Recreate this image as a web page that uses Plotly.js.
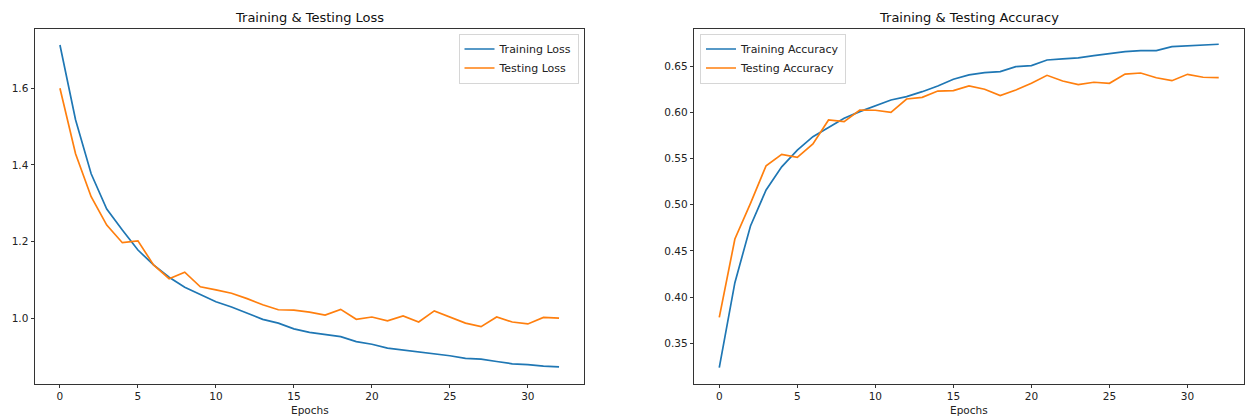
<!DOCTYPE html>
<html>
<head>
<meta charset="utf-8">
<script src="https://cdn.plot.ly/plotly-3.0.1.min.js"></script>
<style>html,body{margin:0;padding:0;background:#fff;}#chart{width:1248px;height:416px;}</style>
</head>
<body>
<div id="chart"></div>
<script>
const epochs = [0,1,2,3,4,5,6,7,8,9,10,11,12,13,14,15,16,17,18,19,20,21,22,23,24,25,26,27,28,29,30,31,32];
const trainLoss = [1.713,1.518,1.377,1.285,1.230,1.178,1.139,1.107,1.081,1.061,1.043,1.029,1.013,0.997,0.987,0.972,0.963,0.958,0.952,0.939,0.932,0.922,0.917,0.912,0.907,0.902,0.895,0.893,0.887,0.881,0.879,0.875,0.873];
const testLoss  = [1.600,1.429,1.317,1.243,1.197,1.202,1.139,1.103,1.120,1.082,1.074,1.065,1.051,1.035,1.022,1.021,1.016,1.008,1.023,0.997,1.003,0.993,1.006,0.990,1.019,1.003,0.987,0.978,1.003,0.990,0.985,1.002,1.000];
const trainAcc  = [0.3236,0.4156,0.4770,0.5160,0.5410,0.5590,0.5736,0.5833,0.5935,0.6007,0.6068,0.6133,0.6170,0.6223,0.6285,0.6357,0.6404,0.6429,0.6440,0.6494,0.6505,0.6566,0.6577,0.6588,0.6613,0.6638,0.6656,0.6667,0.6667,0.6710,0.6718,0.6728,0.6736];
const testAcc   = [0.3780,0.4629,0.5015,0.5422,0.5545,0.5513,0.5657,0.5917,0.5898,0.6025,0.6022,0.6000,0.6144,0.6162,0.6230,0.6234,0.6285,0.6249,0.6180,0.6241,0.6314,0.6400,0.6339,0.6299,0.6325,0.6314,0.6414,0.6425,0.6374,0.6342,0.6411,0.6379,0.6374];
const chartTitles = ['Training & Testing Loss','Training & Testing Accuracy'];
const xLabel = 'Epochs';

const BLUE = '#1f77b4', ORANGE = '#ff7f0e';
const FONT = 'DejaVu Sans, sans-serif';
const W = 1248, H = 416;
const leftDom = [35/W, 584/W];
const rightDom = [694.3/W, 1243.7/W];
const yDom = [(H-383.7)/H, (H-29.3)/H];

const traces = [
  {x: epochs, y: trainLoss, name: 'Training Loss', type: 'scatter', mode: 'lines', line: {color: BLUE, width: 1.7}, xaxis: 'x', yaxis: 'y', legend: 'legend'},
  {x: epochs, y: testLoss, name: 'Testing Loss', type: 'scatter', mode: 'lines', line: {color: ORANGE, width: 1.7}, xaxis: 'x', yaxis: 'y', legend: 'legend'},
  {x: epochs, y: trainAcc, name: 'Training Accuracy', type: 'scatter', mode: 'lines', line: {color: BLUE, width: 1.7}, xaxis: 'x2', yaxis: 'y2', legend: 'legend2'},
  {x: epochs, y: testAcc, name: 'Testing Accuracy', type: 'scatter', mode: 'lines', line: {color: ORANGE, width: 1.7}, xaxis: 'x2', yaxis: 'y2', legend: 'legend2'}
];

const axBase = {
  showline: true, mirror: true, linecolor: '#333', linewidth: 1,
  showgrid: false, zeroline: false,
  ticks: 'outside', ticklen: 3.5, tickwidth: 1, tickcolor: '#333',
  tickfont: {family: FONT, size: 10.5, color: '#222'}
};

const legBase = {
  font: {family: FONT, size: 11, color: '#222'},
  bgcolor: 'rgba(255,255,255,0.8)', bordercolor: '#d6d6d6', borderwidth: 1,
  itemwidth: 30, tracegroupgap: 0, yanchor: 'top'
};

const layout = {
  width: W, height: H,
  margin: {l: 0, r: 0, t: 0, b: 0},
  paper_bgcolor: '#fff', plot_bgcolor: '#fff',
  font: {family: FONT, size: 11, color: '#222'},
  showlegend: true,
  xaxis: Object.assign({}, axBase, {domain: leftDom, range: [-1.6, 33.6], dtick: 5, tick0: 0, anchor: 'y', ticklabelstandoff: -1}),
  yaxis: Object.assign({}, axBase, {domain: yDom, range: [0.829, 1.754], dtick: 0.2, tick0: 1.0, tickformat: '.1f', anchor: 'x'}),
  xaxis2: Object.assign({}, axBase, {domain: rightDom, range: [-1.6, 33.6], dtick: 5, tick0: 0, anchor: 'y2', ticklabelstandoff: -1}),
  yaxis2: Object.assign({}, axBase, {domain: yDom, range: [0.3063, 0.6898], dtick: 0.05, tick0: 0.35, tickformat: '.2f', anchor: 'x2'}),
  legend: Object.assign({}, legBase, {x: 578.5/W, xanchor: 'right', y: 1 - 33.5/H}),
  legend2: Object.assign({}, legBase, {x: 700/W, xanchor: 'left', y: 1 - 33.5/H}),
  annotations: [
    {text: chartTitles[0], xref: 'paper', yref: 'paper', x: (35+584)/2/W, y: 1 - 17.5/H, xanchor: 'center', yanchor: 'middle', showarrow: false, font: {family: FONT, size: 13, color: '#111'}},
    {text: chartTitles[1], xref: 'paper', yref: 'paper', x: (694.3+1243.7)/2/W, y: 1 - 17.5/H, xanchor: 'center', yanchor: 'middle', showarrow: false, font: {family: FONT, size: 13, color: '#111'}},
    {text: xLabel, xref: 'paper', yref: 'paper', x: (35+584)/2/W, y: 1 - 402.5/H, xanchor: 'center', yanchor: 'top', borderpad: 0, showarrow: false, font: {family: FONT, size: 10.5, color: '#222'}},
    {text: xLabel, xref: 'paper', yref: 'paper', x: (694.3+1243.7)/2/W, y: 1 - 402.5/H, xanchor: 'center', yanchor: 'top', borderpad: 0, showarrow: false, font: {family: FONT, size: 10.5, color: '#222'}}
  ]
};

Plotly.newPlot('chart', traces, layout, {displayModeBar: false, staticPlot: true});
</script>
</body>
</html>
